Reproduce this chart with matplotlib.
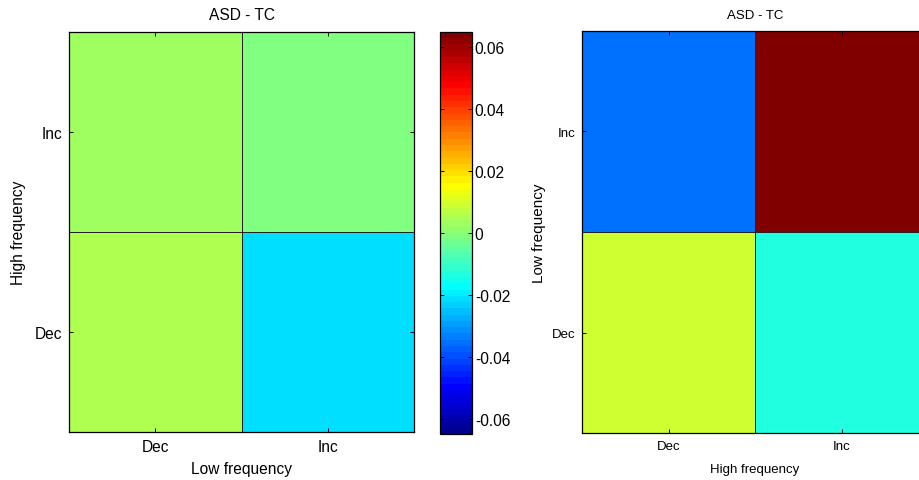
import numpy as np
import matplotlib
matplotlib.use('Agg')
import matplotlib.pyplot as plt
from matplotlib.colors import ListedColormap

# Category labels for both panels
LEVELS = ['Dec', 'Inc']

# Left panel: rows = High frequency (Dec, Inc), cols = Low frequency (Dec, Inc)
left_vals = [[0.0051, -0.0213],
             [0.0031, -0.0010]]
# Right panel: rows = Low frequency (Dec, Inc), cols = High frequency (Dec, Inc)
right_vals = [[0.0042, -0.0061],
              [-0.0164, 0.0300]]

LEFT_CLIM = (-0.065, 0.065)
RIGHT_CLIM = (-0.03, 0.03)
CBAR_TICKS = [-0.06, -0.04, -0.02, 0, 0.02, 0.04, 0.06]
CBAR_LABELS = ['-0.06', '-0.04', '-0.02', '0', '0.02', '0.04', '0.06']


def matlab_jet(m=64):
    """ Rebuild MATLAB's jet(m) colour table """
    n = int(np.ceil(m / 4))
    u = np.concatenate([np.arange(1, n + 1) / n, np.ones(n - 1), np.arange(n, 0, -1) / n])
    g = int(np.ceil(n / 2)) - int(m % 4 == 1) + np.arange(1, len(u) + 1)
    r = g + n
    b = g - n
    g = g[g <= m]
    r = r[r <= m]
    b = b[b >= 1]
    J = np.zeros((m, 3))
    J[r - 1, 0] = u[:len(r)]
    J[g - 1, 1] = u[:len(g)]
    J[b - 1, 2] = u[len(u) - len(b):]
    return ListedColormap(J)


cmap = matlab_jet(64)
plt.rcParams['font.family'] = ['Liberation Sans', 'DejaVu Sans']


def draw_panel(ax, vals, clim, xlabel, ylabel, size, ysize, xpad, ypad, tpad):
    """ Draw one 2x2 matrix panel in MATLAB style """
    data = np.array(vals)
    mesh = ax.pcolormesh(np.arange(3), np.arange(3), data, cmap=cmap,
                         vmin=clim[0], vmax=clim[1],
                         edgecolors='#222222', linewidth=0.6)
    ax.set_xlim(0, 2)
    ax.set_ylim(0, 2)
    ax.set_xticks([0.5, 1.5])
    ax.set_yticks([0.5, 1.5])
    ax.set_xticklabels(LEVELS, fontsize=size)
    ax.set_yticklabels(LEVELS, fontsize=size)
    ax.tick_params(direction='in', length=3, width=0.7, top=True, right=True, pad=5)
    ax.set_xlabel(xlabel, fontsize=size, labelpad=xpad)
    ax.set_ylabel(ylabel, fontsize=ysize, labelpad=ypad)
    ax.set_title('ASD - TC', fontsize=size, pad=tpad)
    for s in ax.spines.values():
        s.set_linewidth(0.9)
    return mesh


fig = plt.figure(figsize=(9.19, 4.81), dpi=100)

ax1 = fig.add_axes([0.0751, 0.0998, 0.3754, 0.8316])
mesh1 = draw_panel(ax1, left_vals, LEFT_CLIM, 'Low frequency', 'High frequency',
                   11.2, 11.2, 5, 6, 9)

# Colorbar for the left panel
cax = fig.add_axes([0.4788, 0.0956, 0.0348, 0.836])
cb = fig.colorbar(mesh1, cax=cax)
cb.set_ticks(CBAR_TICKS)
cb.set_ticklabels(CBAR_LABELS)
cb.ax.tick_params(direction='in', length=3, width=0.7, left=True, right=True,
                  labelsize=11.2, pad=2)
cb.outline.set_linewidth(0.9)

# Right panel runs past the right edge of the figure, like the reference
ax2 = fig.add_axes([0.6333, 0.0977, 0.3765, 0.8358])
draw_panel(ax2, right_vals, RIGHT_CLIM, 'High frequency', 'Low frequency',
           9.5, 11, 8, 4, 9)

fig.savefig('out.png', dpi=100)
